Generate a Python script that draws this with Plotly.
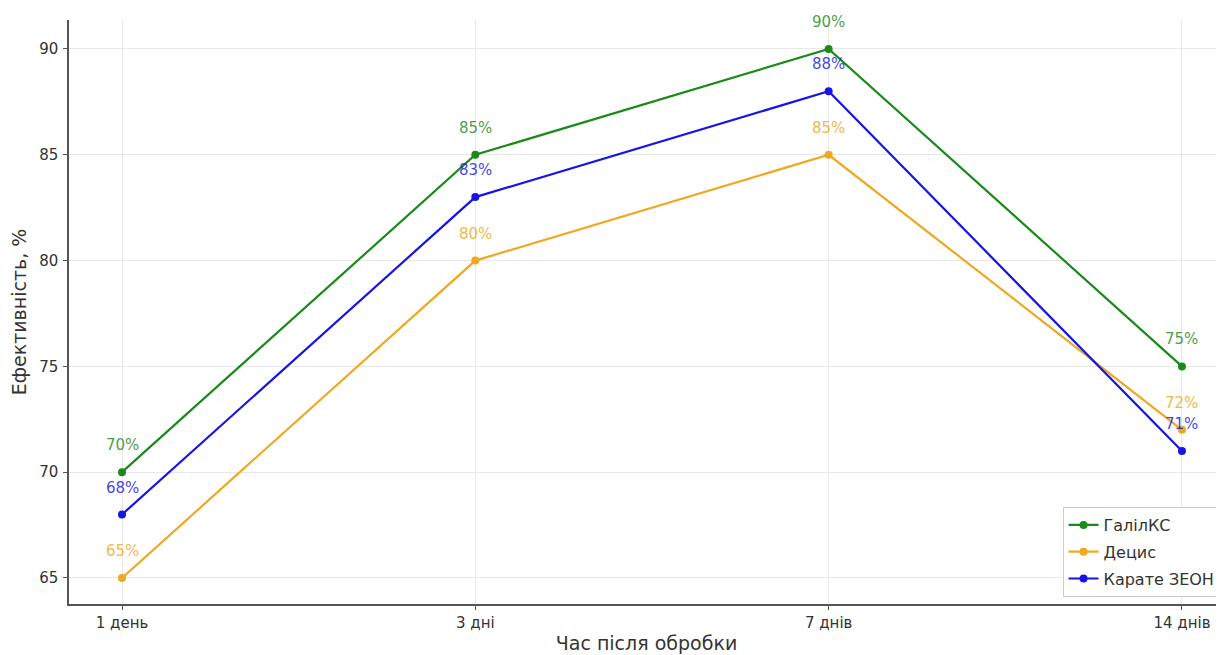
import plotly.graph_objects as go

categories = ["1 день", "3 дні", "7 днів", "14 днів"]
galil = [70, 85, 90, 75]
decis = [65, 80, 85, 72]
karate = [68, 83, 88, 71]

series = [
    ("ГалілКС", galil, "#1a8a1a"),
    ("Децис", decis, "#f0a820"),
    ("Карате ЗЕОН", karate, "#1515e6"),
]

xs = list(range(len(categories)))
fig = go.Figure()
for i, (name, vals, col) in enumerate(series):
    fig.add_trace(go.Scatter(
        x=xs, y=vals, name=name, mode="lines+markers", legendgroup=f"g{i}",
        line=dict(color=col, width=2.2), marker=dict(color=col, size=8),
    ))
    for xi, v in zip(xs, vals):
        fig.add_annotation(x=xi, y=v, text=f"{v}%", showarrow=False, yshift=27,
                           font=dict(color=col, size=15, family="DejaVu Sans"), opacity=0.8)

fig.update_layout(
    width=1216, height=647,
    margin=dict(l=61, r=0, t=12, b=51, autoexpand=False),
    paper_bgcolor="white", plot_bgcolor="white",
    font=dict(family="DejaVu Sans", size=15, color="#333333"),
    showlegend=True,
    legend=dict(x=0.997, y=0.012, xanchor="right", yanchor="bottom",
                bgcolor="rgba(255,255,255,0.9)", bordercolor="#cccccc", borderwidth=1,
                font=dict(size=16, color="#333333"), tracegroupgap=3),
)
fig.update_xaxes(
    range=[-0.15, 3.119], tickvals=xs, ticktext=categories,
    showgrid=True, gridcolor="#e8e8e8", gridwidth=1,
    showline=True, linecolor="#555555", linewidth=1.5,
    ticks="outside", ticklen=4, tickcolor="#555555", ticklabelstandoff=0,
    title=dict(text="Час після обробки", font=dict(size=19), standoff=6),
    zeroline=False, automargin=False,
)
fig.update_yaxes(
    range=[63.77, 91.37], tickvals=[65, 70, 75, 80, 85, 90],
    showgrid=True, gridcolor="#e8e8e8", gridwidth=1,
    showline=True, linecolor="#555555", linewidth=1.5,
    ticks="outside", ticklen=4, tickcolor="#555555", ticklabelstandoff=2,
    title=dict(text="Ефективність, %", font=dict(size=19), standoff=9),
    zeroline=False, automargin=False,
)
fig.write_html("out.html")
